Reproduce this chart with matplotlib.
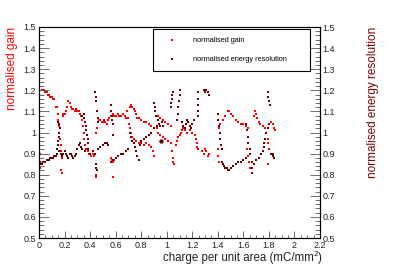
import matplotlib
matplotlib.use('Agg')
from matplotlib import pyplot as plt
from matplotlib.ticker import MultipleLocator, FuncFormatter

plt.rcParams['font.family'] = ['Liberation Sans', 'DejaVu Sans']

# normalised gain
gain_x = [0.0, 0.0, 0.0, 0.005, 0.005, 0.01, 0.0,
          0.02, 0.03, 0.04, 0.05, 0.06, 0.07, 0.08, 0.09, 0.1, 0.11, 0.12, 0.13,
          0.14, 0.145, 0.15, 0.155, 0.16, 0.165, 0.17, 0.175, 0.18, 0.17, 0.18,
          0.185, 0.19, 0.2, 0.21, 0.22, 0.23, 0.24,
          0.25, 0.26, 0.27, 0.28, 0.29, 0.3, 0.31, 0.32, 0.33, 0.34,
          0.345, 0.35, 0.355, 0.36, 0.37,
          0.38, 0.39, 0.4, 0.41, 0.42, 0.43, 0.44, 0.45, 0.45,
          0.45, 0.455,
          0.46, 0.47, 0.48, 0.49, 0.5, 0.51, 0.52, 0.53, 0.54, 0.55,
          0.56, 0.57, 0.58, 0.59, 0.58,
          0.56, 0.58, 0.59, 0.6, 0.62, 0.63, 0.64, 0.66, 0.67, 0.68,
          0.69, 0.7, 0.705, 0.71, 0.72, 0.73,
          0.71, 0.72, 0.73, 0.74, 0.75, 0.76,
          0.77, 0.78, 0.8, 0.82, 0.84, 0.86, 0.88, 0.9, 0.92,
          0.74, 0.76, 0.78, 0.8, 0.82, 0.84, 0.86, 0.88, 0.89, 0.9,
          0.93, 0.95, 0.97, 0.99, 1.01, 1.03,
          0.93, 0.95, 0.97, 0.99, 1.01, 1.03,
          1.04, 1.05, 1.05, 1.06,
          1.07, 1.08, 1.09, 1.1, 1.11, 1.12, 1.13,
          1.14, 1.16, 1.18, 1.2, 1.22,
          1.23, 1.235, 1.24, 1.245,
          1.28, 1.29, 1.3, 1.31, 1.32, 1.33,
          1.4, 1.405, 1.41, 1.41, 1.42, 1.44, 1.46, 1.48, 1.49, 1.5, 1.52, 1.54,
          1.56, 1.58, 1.6, 1.62, 1.64,
          1.63, 1.64, 1.645, 1.65,
          1.68, 1.69, 1.7, 1.71, 1.72,
          1.73, 1.75, 1.77, 1.78,
          1.79, 1.79, 1.8, 1.79,
          1.82, 1.83, 1.84, 1.85]
gain_y = [1.0, 0.97, 0.94, 0.9, 0.86, 0.83, 1.18,
          1.2, 1.2, 1.2, 1.19, 1.19, 1.18, 1.18, 1.17, 1.17, 1.16, 1.16, 1.12,
          1.12, 1.09, 1.06, 1.03, 1.0, 0.97, 0.94, 0.91, 0.88, 0.82, 0.81,
          1.09, 1.08, 1.09, 1.1, 1.12, 1.15, 1.14,
          1.12, 1.11, 1.11, 1.1, 1.11, 1.1, 1.1, 1.09, 1.08, 1.06,
          1.03, 1.0, 0.97, 0.94, 0.92,
          0.91, 0.9, 0.9, 0.89, 0.9, 0.89, 0.9, 0.79, 0.8,
          1.0, 1.02,
          1.07, 1.06, 1.06, 1.05, 1.05, 1.06, 1.05, 1.04, 1.06, 1.07,
          0.88, 0.87, 0.86, 0.87, 0.79,
          1.08, 1.09, 1.08, 1.08, 1.09, 1.08, 1.08, 1.09, 1.08, 1.07,
          1.1, 1.07, 1.04, 1.02, 1.0, 0.98,
          1.12, 1.13, 1.12, 1.11, 1.1, 1.09,
          1.07, 1.07, 1.06, 1.05, 1.05, 1.04, 1.03, 1.02, 1.02,
          0.97, 0.96, 0.95, 0.95, 0.94, 0.95, 0.94, 0.93, 0.91, 0.89,
          1.08, 1.07, 1.06, 1.05, 1.04, 1.03,
          1.0, 0.99, 0.98, 0.97, 0.96, 0.95,
          0.91, 0.88, 0.86, 0.85,
          0.94, 0.96, 0.98, 0.99, 1.0, 1.01, 1.02,
          1.01, 1.0, 1.01, 1.0, 0.99,
          0.97, 0.95, 0.93, 0.92,
          0.91, 0.9, 0.92, 0.91, 0.89, 0.9,
          0.92, 0.89, 0.86, 1.02, 1.04, 1.06, 1.08, 1.1, 1.1, 1.09, 1.08, 1.06,
          1.05, 1.04, 1.04, 1.03, 1.02,
          0.92, 0.89, 0.86, 0.83,
          1.08, 1.1, 1.09, 1.07, 1.05,
          1.04, 1.03, 1.02, 1.0,
          0.97, 0.95, 0.92, 0.85,
          1.05, 1.04, 1.02, 1.01]

# normalised energy resolution
res_x = [0.0, 0.0, 0.0, 0.005,
         0.01, 0.02, 0.03, 0.04, 0.05, 0.06, 0.07, 0.08, 0.09, 0.1, 0.11, 0.12, 0.13, 0.14,
         0.15, 0.16, 0.165, 0.16, 0.155, 0.15, 0.145, 0.14,
         0.16, 0.17, 0.18, 0.19, 0.2, 0.21, 0.22, 0.23, 0.24, 0.25, 0.26, 0.27, 0.28,
         0.29, 0.3, 0.31, 0.32, 0.33,
         0.34, 0.35, 0.355, 0.36, 0.365, 0.37, 0.375, 0.38, 0.385,
         0.34, 0.36, 0.38, 0.4, 0.42, 0.44,
         0.44, 0.445, 0.45, 0.455, 0.46, 0.46,
         0.45, 0.45, 0.455,
         0.46, 0.48, 0.5, 0.52, 0.53, 0.54,
         0.56, 0.565, 0.57, 0.575, 0.58, 0.58,
         0.56, 0.58, 0.6, 0.62, 0.64, 0.66, 0.68, 0.7,
         0.71, 0.72, 0.73, 0.74,
         0.75, 0.76, 0.77, 0.78,
         0.79, 0.8, 0.82, 0.84, 0.86, 0.88, 0.9, 0.92,
         0.9, 0.905, 0.91, 0.915,
         0.93, 0.94, 0.95, 0.96, 0.97,
         1.03, 1.035, 1.04, 1.045, 1.05,
         1.08, 1.085, 1.09, 1.095, 1.1, 1.1,
         1.12, 1.13, 1.14, 1.15, 1.16, 1.17, 1.18, 1.19, 1.2, 1.21,
         1.245, 1.245, 1.245, 1.245, 1.245,
         1.29, 1.3, 1.31, 1.32, 1.33,
         1.4, 1.405, 1.41, 1.415, 1.42, 1.425, 1.43,
         1.43, 1.44, 1.45, 1.46, 1.47, 1.48, 1.49,
         1.5, 1.52, 1.54, 1.56, 1.58, 1.6, 1.62,
         1.62, 1.63, 1.635, 1.64, 1.65, 1.655,
         1.665, 1.67, 1.67,
         1.68, 1.7, 1.72, 1.74, 1.75,
         1.76, 1.765, 1.77, 1.78, 1.79, 1.8,
         1.79, 1.795, 1.8, 1.805,
         1.82, 1.83, 1.84, 1.835]
res_y = [1.1, 1.05, 0.87, 0.86,
         0.85, 0.85, 0.86, 0.86, 0.86, 0.87, 0.87, 0.87, 0.88, 0.88, 0.88, 0.89, 0.89, 0.9,
         1.05, 1.04, 1.02, 1.0, 0.98, 0.96, 0.94, 0.92,
         0.91, 0.9, 0.89, 0.9, 0.91, 0.9, 0.89, 0.88, 0.9, 0.9, 0.89, 0.88, 0.89,
         0.9, 0.92, 0.94, 0.95, 0.93,
         1.08, 1.09, 1.07, 1.05, 1.03, 1.01, 0.99, 0.97, 0.95,
         0.92, 0.91, 0.92, 0.9, 0.91, 0.9,
         1.19, 1.17, 1.15, 1.1, 1.07, 1.05,
         0.85, 0.83, 0.82,
         0.92, 0.93, 0.94, 0.95, 0.95, 0.94,
         1.13, 1.1, 1.08, 1.06, 1.04, 0.99,
         0.86, 0.87, 0.88, 0.89, 0.9, 0.9, 0.91, 0.92,
         1.0, 0.98, 0.96, 0.95,
         0.93, 0.91, 0.89, 0.87,
         0.94, 0.96, 0.97, 0.98, 0.99, 1.0, 1.02, 1.03,
         1.14, 1.12, 1.1, 1.08,
         1.06, 1.04, 1.03, 1.05, 1.03,
         1.12, 1.14, 1.16, 1.18, 1.19,
         1.06, 1.09, 1.12, 1.15, 1.18, 1.2,
         1.05, 1.03, 1.02, 1.04, 1.06, 1.05, 1.03, 1.02, 1.04, 1.06,
         1.19, 1.16, 1.13, 1.1, 1.08,
         1.2, 1.19, 1.2, 1.19, 1.18,
         1.09, 1.06, 1.03, 1.0, 0.97, 0.94, 0.92,
         0.86, 0.85, 0.84, 0.83, 0.83, 0.82, 0.82,
         0.83, 0.84, 0.85, 0.86, 0.86, 0.87, 0.88,
         1.04, 1.01, 0.98, 0.95, 0.92, 0.9,
         0.86, 0.83, 0.81,
         0.85, 0.87, 0.88, 0.9, 0.91,
         0.93, 0.95, 0.97, 1.0, 1.02, 1.04,
         1.19, 1.17, 1.15, 1.13,
         0.9, 0.89, 0.88, 0.9]
circle_x = [0.955]
circle_y = [0.96]

gain_col = '#ff0000'
res_col = '#660000'

fig = plt.figure(figsize=(3.94, 2.66), dpi=100)
ax = fig.add_axes([39/394, 28/266, 281/394, 211/266])
ax.scatter(gain_x, gain_y, s=4, marker='s', c=gain_col, linewidths=0, label='normalised gain')
ax.scatter(res_x, res_y, s=4, marker='s', c=res_col, linewidths=0, label='normalised energy resolution')
ax.scatter(circle_x, circle_y, s=10, marker='o', c=res_col, linewidths=0)

ax.set_xlim(0, 2.2)
ax.set_ylim(0.5, 1.5)

fmt = FuncFormatter(lambda v, p: '%g' % round(v, 2))
ax.xaxis.set_major_locator(MultipleLocator(0.2))
ax.xaxis.set_minor_locator(MultipleLocator(0.05))
ax.yaxis.set_major_locator(MultipleLocator(0.1))
ax.yaxis.set_minor_locator(MultipleLocator(0.02))
ax.xaxis.set_major_formatter(fmt)
ax.yaxis.set_major_formatter(fmt)
ax.tick_params(which='both', direction='in', top=False, right=False, color='#555555', width=0.6,
               labelsize=6.5, labelcolor='#222222')
ax.tick_params(axis='x', which='major', length=5, pad=2)
ax.tick_params(axis='x', which='minor', length=2.5)
ax.tick_params(axis='y', which='major', length=7, pad=2)
ax.tick_params(axis='y', which='minor', length=3.5)

ax2 = ax.twinx()
ax2.set_ylim(0.5, 1.5)
ax2.yaxis.set_major_locator(MultipleLocator(0.1))
ax2.yaxis.set_minor_locator(MultipleLocator(0.02))
ax2.yaxis.set_major_formatter(fmt)
ax2.tick_params(which='both', direction='in', color='#555555', width=0.6, labelsize=6.5,
                labelcolor='#222222')
ax2.tick_params(which='major', length=7, pad=2)
ax2.tick_params(which='minor', length=3.5)

for a in (ax, ax2):
    for sp in a.spines.values():
        sp.set_linewidth(0.8)
        sp.set_color('black')
ax.spines['top'].set_color('#777777')

fig.text(12/394, 1 - 27/266, 'normalised gain', rotation=90, ha='center', va='top',
         fontsize=8.5, color=gain_col)
fig.text(373/394, 1 - 27/266, 'normalised energy resolution', rotation=90, ha='center',
         va='top', fontsize=8.5, color='#800000')

# x title built from pieces so the superscript sits like ROOT's
rend = fig.canvas.get_renderer()
inv = fig.transFigure.inverted()
base = 1 - 261/266
t3 = fig.text(322/394, base, ')', ha='right', va='baseline', fontsize=8.3, color='#222222')
x3 = inv.transform(t3.get_window_extent(rend))[0][0]
t2 = fig.text(x3, base + 5/266, '2', ha='right', va='baseline', fontsize=5.8, color='#222222')
x2 = inv.transform(t2.get_window_extent(rend))[0][0]
fig.text(x2, base, 'charge per unit area (mC/mm', ha='right', va='baseline', fontsize=8.3,
         color='#222222')

leg = ax.legend(loc='upper left', bbox_to_anchor=(153/394, 1 - 69/266, 157/394, 40/266),
                bbox_transform=fig.transFigure, mode='expand', borderaxespad=0,
                fontsize=5.3, markerscale=1.0, handlelength=3.2, handletextpad=1.25,
                borderpad=1.0, labelspacing=1.7, fancybox=False, framealpha=1,
                edgecolor='black', scatterpoints=1)
leg.get_frame().set_linewidth(0.8)
leg.set_zorder(5)

fig.savefig('out.png', dpi=100)
